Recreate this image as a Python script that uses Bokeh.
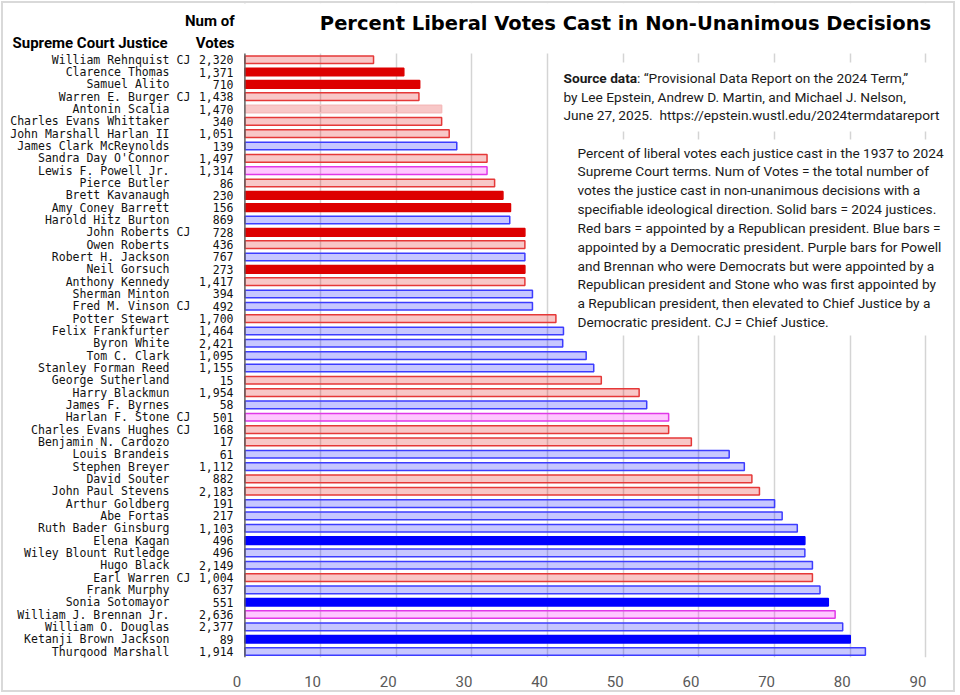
from bokeh.plotting import figure
from bokeh.models import (Range1d, LinearAxis, FixedTicker, Grid, Span,
                          BoxAnnotation, Label, ColumnDataSource)
from bokeh.core.properties import value
from bokeh.embed import file_html
from bokeh.resources import INLINE

# ---------------- data (top to bottom) ----------------
justices = [
    "William Rehnquist", "Clarence Thomas", "Samuel Alito", "Warren E. Burger",
    "Antonin Scalia", "Charles Evans Whittaker", "John Marshall Harlan II",
    "James Clark McReynolds", "Sandra Day O'Connor", "Lewis F. Powell Jr.",
    "Pierce Butler", "Brett Kavanaugh", "Amy Coney Barrett", "Harold Hitz Burton",
    "John Roberts", "Owen Roberts", "Robert H. Jackson", "Neil Gorsuch",
    "Anthony Kennedy", "Sherman Minton", "Fred M. Vinson", "Potter Stewart",
    "Felix Frankfurter", "Byron White", "Tom C. Clark", "Stanley Forman Reed",
    "George Sutherland", "Harry Blackmun", "James F. Byrnes", "Harlan F. Stone",
    "Charles Evans Hughes", "Benjamin N. Cardozo", "Louis Brandeis",
    "Stephen Breyer", "David Souter", "John Paul Stevens", "Arthur Goldberg",
    "Abe Fortas", "Ruth Bader Ginsburg", "Elena Kagan", "Wiley Blount Rutledge",
    "Hugo Black", "Earl Warren", "Frank Murphy", "Sonia Sotomayor",
    "William J. Brennan Jr.", "William O. Douglas", "Ketanji Brown Jackson",
    "Thurgood Marshall",
]
chief = [
    True, False, False, True, False, False, False, False, False, False,
    False, False, False, False, True, False, False, False, False, False,
    True, False, False, False, False, False, False, False, False, True,
    True, False, False, False, False, False, False, False, False, False,
    False, False, True, False, False, False, False, False, False,
]
num_votes = [
    2320, 1371, 710, 1438, 1470, 340, 1051, 139, 1497, 1314,
    86, 230, 156, 869, 728, 436, 767, 273, 1417, 394,
    492, 1700, 1464, 2421, 1095, 1155, 15, 1954, 58, 501,
    168, 17, 61, 1112, 882, 2183, 191, 217, 1103, 496,
    496, 2149, 1004, 637, 551, 2636, 2377, 89, 1914,
]
pct_liberal = [
    17.0, 21.0, 23.1, 23.0, 26.0, 26.0, 27.0, 28.0, 32.0, 32.0,
    33.0, 34.1, 35.1, 35.0, 37.0, 37.0, 37.0, 37.0, 37.0, 38.0,
    38.0, 41.1, 42.1, 42.0, 45.1, 46.1, 47.1, 52.1, 53.1, 56.0,
    56.0, 59.0, 64.0, 66.0, 67.0, 68.0, 70.0, 71.0, 73.0, 74.0,
    74.0, 75.0, 75.0, 76.0, 77.1, 78.0, 79.0, 80.0, 82.0,
]
# R = Republican appointee, D = Democratic appointee, P = purple (mixed)
party = [
    "R", "R", "R", "R", "R", "R", "R", "D", "R", "P",
    "R", "R", "R", "D", "R", "R", "D", "R", "R", "D",
    "D", "R", "D", "D", "D", "D", "R", "R", "D", "P",
    "R", "R", "D", "D", "R", "R", "D", "D", "D", "D",
    "D", "D", "R", "D", "D", "P", "D", "D", "D",
]
sitting_2024 = ["Clarence Thomas", "Samuel Alito", "Brett Kavanaugh",
                "Amy Coney Barrett", "John Roberts", "Neil Gorsuch",
                "Elena Kagan", "Sonia Sotomayor", "Ketanji Brown Jackson"]
faint_outline = ["Antonin Scalia"]
x_ticks = [0, 10, 20, 30, 40, 50, 60, 70, 80, 90]

title_text = "Percent Liberal Votes Cast in Non-Unanimous Decisions"
source_lines = [
    "by Lee Epstein, Andrew D. Martin, and Michael J. Nelson,",
    "June 27, 2025.\u00a0 https://epstein.wustl.edu/2024termdatareport",
]
note_lines = [
    "Percent of liberal votes each justice cast in the 1937 to 2024",
    "Supreme Court terms. Num of Votes = the total number of",
    "votes the justice cast in non-unanimous decisions with a",
    "specifiable ideological direction. Solid bars = 2024 justices.",
    "Red bars = appointed by a Republican president. Blue bars =",
    "appointed by a Democratic president. Purple bars for Powell",
    "and Brennan who were Democrats but were appointed by a",
    "Republican president and Stone who was first appointed by",
    "a Republican president, then elevated to Chief Justice by a",
    "Democratic president. CJ = Chief Justice.",
]

# ---------------- styling ----------------
FILL = {"R": "#e00000", "D": "#0000ff", "P": "#ff00ff"}
LINE = {"R": "#e53838", "D": "#3c3cff", "P": "#e038e8"}
SOLID = {"R": "#dd0000", "D": "#0000ff", "P": "#ff00ff"}

fills, alphas, lines = [], [], []
for nm, pa in zip(justices, party):
    if nm in sitting_2024:
        fills.append(SOLID[pa]); alphas.append(1.0); lines.append(SOLID[pa])
    else:
        fills.append(FILL[pa]); alphas.append(0.22)
        lines.append("#f5bcbc" if nm in faint_outline else LINE[pa])

rows = list(range(len(justices)))
src = ColumnDataSource(dict(
    row=rows, name=justices, pct=pct_liberal,
    cj=["CJ" if c else "" for c in chief],
    votes=[f"{v:,}" for v in num_votes],
    fill=fills, alpha=alphas, line=lines,
))

# layout helpers (reference pixel -> data coordinate)
OFF = 3            # canvas starts 3px in (1px margin + 2px light border)
W, H = 954, 691
X0_REF, PPU = 244.4, 7.567
ROW0_REF, ROWH = 59.2, 12.33
FRAME_TOP_REF, FRAME_BOT_REF, FRAME_RIGHT_REF = 53, 657, 950
def fx(px):
    return (px - X0_REF) / PPU
def fy(py):
    return (py - ROW0_REF) / ROWH

n = len(justices)
p = figure(width=W, height=H, output_backend="svg", toolbar_location=None,
           x_range=Range1d(fx(OFF), fx(FRAME_RIGHT_REF)),
           y_range=Range1d(fy(FRAME_BOT_REF), fy(OFF)),
           x_axis_location=None, y_axis_location=None,
           min_border_left=0, min_border_right=W + OFF - FRAME_RIGHT_REF,
           min_border_top=0, min_border_bottom=H + OFF - FRAME_BOT_REF)
p.outline_line_color = None
p.background_fill_color = "white"
p.border_fill_color = "white"
p.styles = {"border": "2px solid #d9d9d9", "margin": "1px"}
for g in p.grid:
    g.visible = False

# grid
grid = Grid(dimension=0, ticker=FixedTicker(ticks=x_ticks[1:]),
            grid_line_color="#d4d4d4", grid_line_width=1.5)
p.add_layout(grid)

# x axis (labels sit slightly left of their gridlines, as in the reference)
shift = 8 / PPU
p.extra_x_ranges = {"lab": Range1d(fx(OFF) + shift, fx(FRAME_RIGHT_REF) + shift)}
xax = LinearAxis(x_range_name="lab", ticker=FixedTicker(ticks=x_ticks))
xax.axis_line_color = None
xax.major_tick_line_color = None
xax.minor_tick_line_color = None
xax.major_label_standoff = 12
xax.major_label_text_font = "Roboto"
xax.major_label_text_font_size = "15px"
xax.major_label_text_color = "#595959"
p.add_layout(xax, "below")

# bars
p.hbar(y="row", left=0, right="pct", height=0.62, source=src,
       fill_color="fill", fill_alpha="alpha", line_color="line", line_width=1.5)

# value axis line at 0
p.add_layout(Span(location=0, dimension="height", line_color="#606060",
                  line_width=1.5))

# row labels
mono = value("DejaVu Sans Mono")
common = dict(y="row", source=src, text_baseline="middle", text_font=mono,
              text_font_size="11.5px", text_color="#111111")
p.text(x=fx(169), text="name", text_align="right", **common)
p.text(x=fx(176), text="cj", text_align="left", **common)
p.text(x=fx(233), text="votes", text_align="right", **common)

# white areas: header strip above the bars, and boxes behind the notes
p.add_layout(BoxAnnotation(left=fx(-5), right=fx(970), top=fy(-5),
                           bottom=fy(FRAME_TOP_REF),
                           fill_color="white", fill_alpha=1, line_color=None))
p.add_layout(BoxAnnotation(left=fx(555), right=fx(970), top=fy(62), bottom=fy(131),
                           fill_color="white", fill_alpha=1, line_color=None))
p.add_layout(BoxAnnotation(left=fx(565), right=fx(970), top=fy(139), bottom=fy(335),
                           fill_color="white", fill_alpha=1, line_color=None))

def lab(text, xr, yr, align="left", font="Roboto", size="13.7px", style="normal",
        color="#1a1a1a"):
    p.add_layout(Label(x=fx(xr), y=fy(yr), text=text, text_align=align,
                       text_baseline="middle", text_font=font, text_font_size=size,
                       text_font_style=style, text_color=color))

# title and headers
lab(title_text, 625, 23, align="center", font="DejaVu Sans", size="19.5px",
    style="bold", color="#000000")
lab("Supreme Court Justice", 12, 42, font="Roboto", size="15px", style="bold",
    color="#000000")
lab("Num of", 234, 20, align="right", font="Roboto", size="15px", style="bold",
    color="#000000")
lab("Votes", 234, 42, align="right", font="Roboto", size="15px", style="bold",
    color="#000000")

# source note
lab("Source data", 563, 77, style="bold")
lab(": \u201cProvisional Data Report on the 2024 Term,\u201d", 636.5, 77)
for i, t in enumerate(source_lines):
    lab(t, 563, 96 + i * 18.5)

# description
for i, t in enumerate(note_lines):
    lab(t, 577, 152 + i * 18.85)

open("out.html", "w").write(file_html(p, INLINE))
